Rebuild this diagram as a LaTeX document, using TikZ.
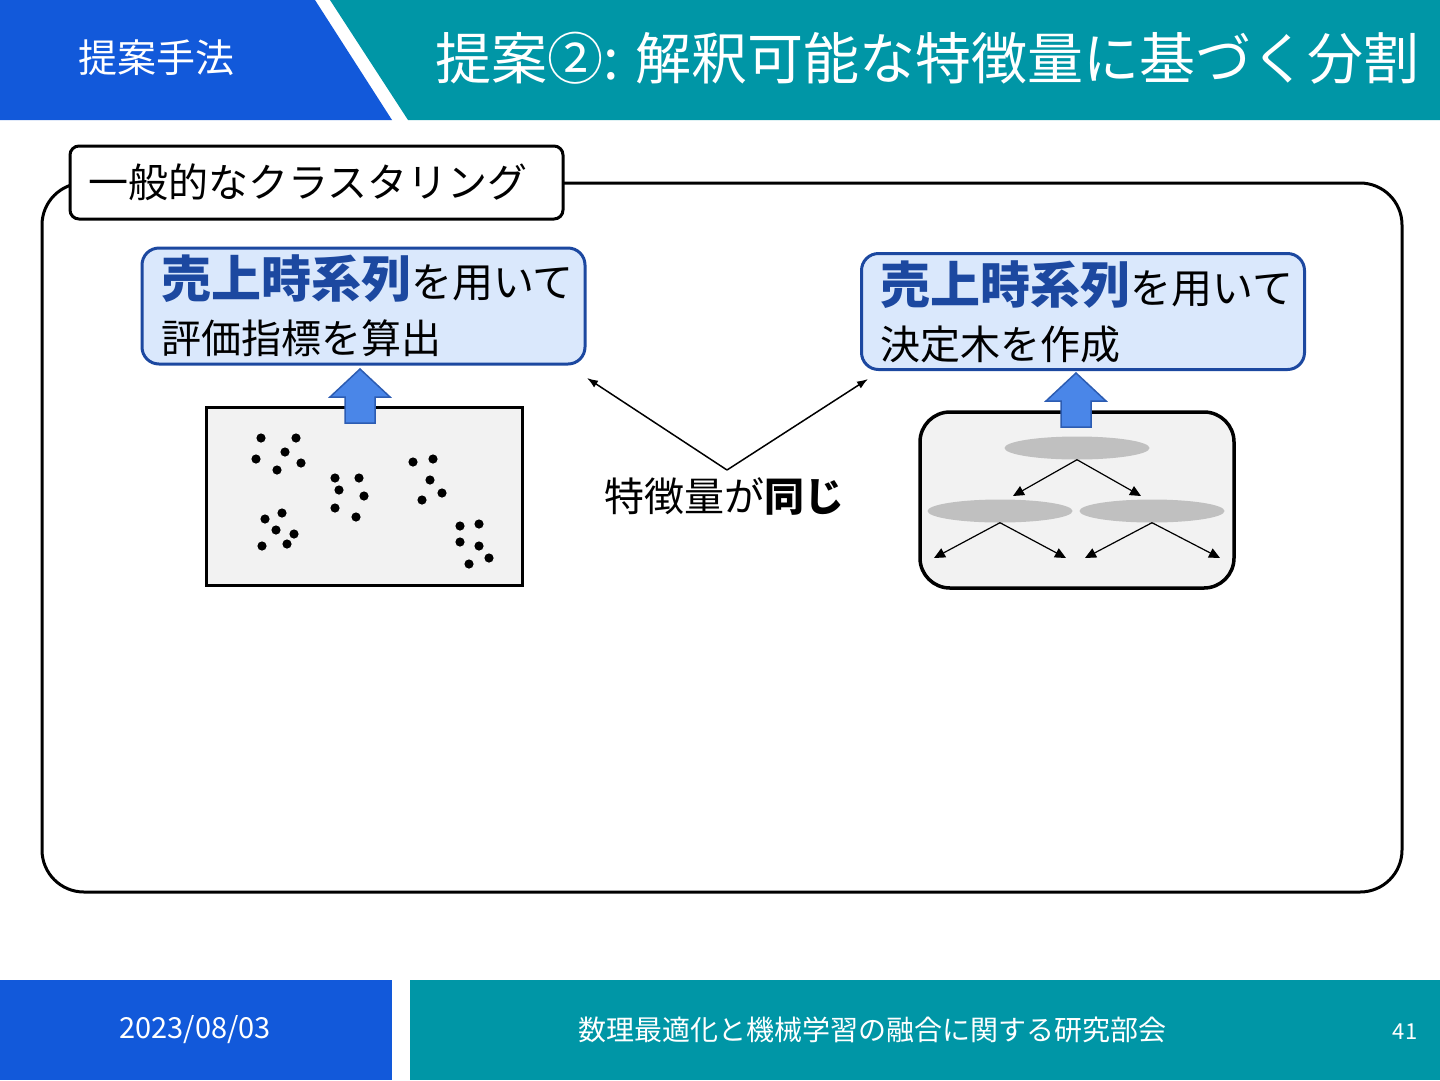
\documentclass[tikz,border=0pt]{standalone}
\usepackage{fontspec}
\setmainfont{Noto Sans CJK JP}
\usepackage{tikz}
\usetikzlibrary{shapes.geometric,arrows.meta,positioning,calc}
\definecolor{hdrblue}{RGB}{18,89,218}
\definecolor{hdrteal}{RGB}{0,150,166}
\definecolor{notefill}{RGB}{218,232,252}
\definecolor{noteline}{RGB}{28,72,160}
\definecolor{uparrfill}{RGB}{74,134,232}
\definecolor{uparrline}{RGB}{44,92,178}
\definecolor{panelfill}{RGB}{242,242,242}
\definecolor{splitfill}{RGB}{192,192,192}
\newcommand{\fs}[2]{\fontsize{#1}{#2}\selectfont}
\tikzset{
  hdr/.style={text=white, inner sep=0pt},
  frame/.style={draw, line width=3pt, rounded corners=42pt},
  tag/.style={rectangle, draw, line width=3pt, rounded corners=9pt, fill=white,
              text width=457pt, inner xsep=18pt, inner ysep=0pt, align=left,
              minimum height=73pt, font=\fs{40}{44}},
  note/.style={rectangle, draw=noteline, line width=3pt, rounded corners=17pt, fill=notefill,
               text width=405pt, inner xsep=19pt, minimum height=116pt, align=left,
               inner ysep=0pt, font=\fs{40}{56}},
  panel/.style={rectangle, draw, fill=panelfill, line width=3pt, inner sep=0pt},
  splitnode/.style={ellipse, fill=splitfill, minimum width=145pt, minimum height=23pt, inner sep=0pt},
  uparr/.style={fill=uparrfill, draw=uparrline, line width=1.5pt, line join=miter},
  treearr/.style={-{Triangle[length=11pt,width=10pt]}, line width=1.2pt},
  arr/.style={-{Latex[length=11pt,width=8pt]}, line width=1.5pt}
}
\newcommand{\hl}[1]{{\fs{50}{56}\bfseries\color{noteline}#1}}
\begin{document}
\begin{tikzpicture}[x=1pt, y=-1pt]
  \useasboundingbox (0,0) rectangle (1440,1080);
  % header and footer bands
  \fill[hdrblue] (0,0) -- (315,0) -- (392,120) -- (0,120) -- cycle;
  \fill[hdrteal] (330,0) -- (1440,0) -- (1440,120) -- (408,120) -- cycle;
  \fill[hdrblue] (0,980) rectangle (392,1080);
  \fill[hdrteal] (410,980) rectangle (1440,1080);
  \node[hdr, font=\fs{39}{44}] (section) at (156,58) {提案手法};
  \node[hdr, font=\fs{56}{60}, anchor=east] (title) at (1420,58) {提案②: 解釈可能な特徴量に基づく分割};
  \node[hdr, font=\fs{29}{32}] (date) at (195,1030) {2023/08/03};
  \node[hdr, font=\fs{28}{30}] (venue) at (872,1030) {数理最適化と機械学習の融合に関する研究部会};
  \node[hdr, font=\fs{22}{26}] (page) at (1405,1032) {41};
  % outer frame with tag
  \draw[frame] (42,183) rectangle (1402,892);
  \node[tag] (cluster) at (316.5,182.5) {一般的なクラスタリング};
  % notes
  \node[note] (evalnote) at (363.5,306) {\hl{売上時系列}{\fs{41}{56}を用いて}\\評価指標を算出};
  \node[note] (treenote) at (1083,311.5) {\hl{売上時系列}{\fs{41}{56}を用いて}\\決定木を作成};
  % scatter panel
  \node[panel, minimum width=316pt, minimum height=178pt] (scatter) at (364,496) {};
  \foreach \x/\y in {261/438, 296/438, 285/452, 256/459, 301/463, 277/470,
                     335/478, 359/478, 339/490, 364/496, 335/508, 356/517,
                     413/462, 433/459, 430/480, 442/493, 422/500,
                     282/513, 265/519, 276/530, 294/534, 262/546, 287/544,
                     460/526, 479/524, 460/542, 479/546, 489/558, 469/564}
    \fill (\x,\y) circle (4.6pt);
  % tree panel
  \node[panel, rounded corners=30pt, line width=3.5pt, minimum width=314pt, minimum height=176pt] (tree) at (1077,500) {};
  \node[splitnode] (root) at (1077,448) {};
  \node[splitnode] (midl) at (1000,511) {};
  \node[splitnode] (midr) at (1152,511) {};
  \coordinate (tl) at (1013,496);
  \coordinate (tr) at (1141,496);
  \coordinate (ll) at (934,558);
  \coordinate (lr) at (1066,558);
  \coordinate (rl) at (1085,558);
  \coordinate (rr) at (1220,558);
  \draw[treearr] (root.south) -- (tl);
  \draw[treearr] (root.south) -- (tr);
  \draw[treearr] (midl.south) -- (ll);
  \draw[treearr] (midl.south) -- (lr);
  \draw[treearr] (midr.south) -- (rl);
  \draw[treearr] (midr.south) -- (rr);
  % block arrows
  \foreach \cx/\by/\ty in {360/423/369, 1076/427/373}
    \draw[uparr] (\cx-15,\by) -- (\cx-15,\ty+28) -- (\cx-30,\ty+28) -- (\cx,\ty)
      -- (\cx+30,\ty+28) -- (\cx+15,\ty+28) -- (\cx+15,\by) -- cycle;
  % shared features
  \coordinate (apex) at (727,470);
  \coordinate (toeval) at (587,378);
  \coordinate (totree) at (868,379);
  \draw[arr] (apex) -- (toeval);
  \draw[arr] (apex) -- (totree);
  \node[font=\fs{40}{44}, inner sep=0pt] (same) at (724,496) {特徴量が\textbf{同じ}};
\end{tikzpicture}
\end{document}
